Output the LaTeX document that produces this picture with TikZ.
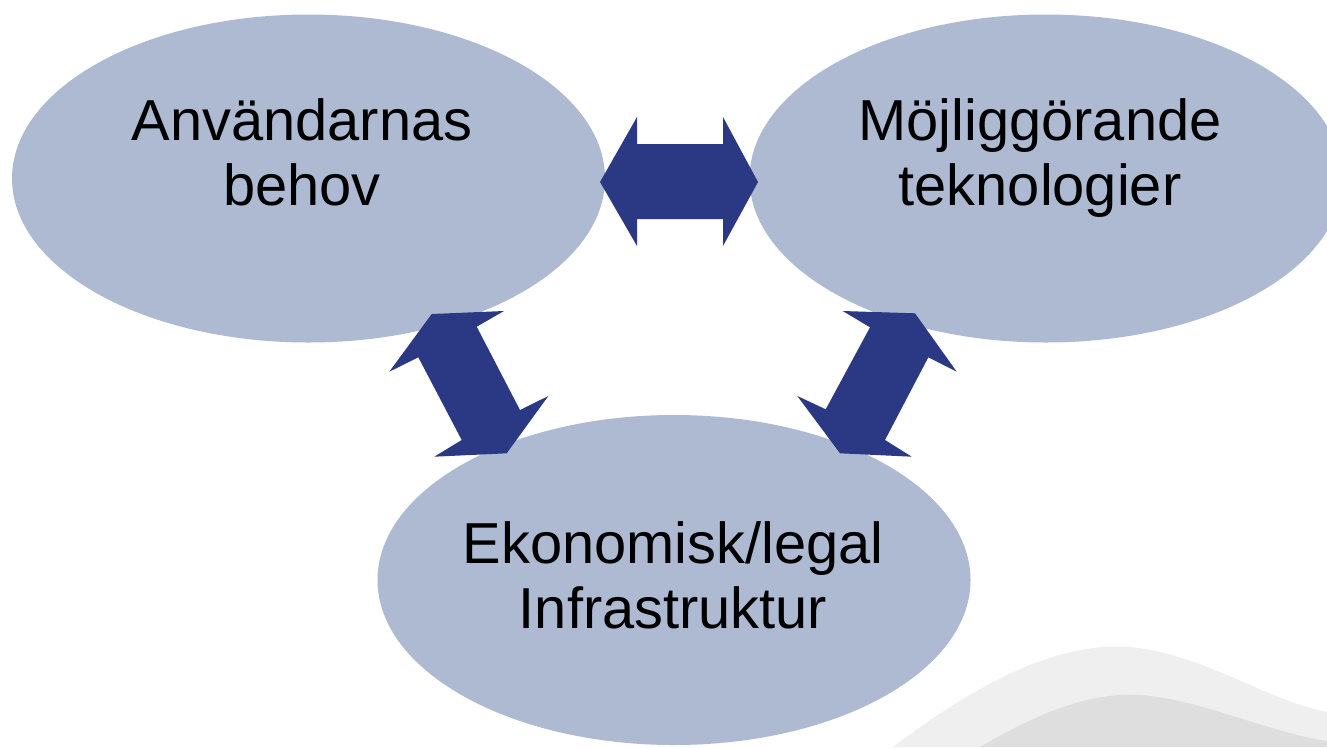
\documentclass[tikz,border=0pt]{standalone}
\usepackage{fontspec}
\setmainfont{Liberation Sans}
\usetikzlibrary{shapes.geometric}
\definecolor{ellfill}{RGB}{173,186,209}
\definecolor{arrowblue}{RGB}{43,57,132}
\definecolor{swooshA}{RGB}{239,239,239}
\definecolor{swooshB}{RGB}{222,222,222}
\tikzset{
  bubble/.style={ellipse, fill=ellfill, draw=none, inner sep=0pt,
    minimum width=593*0.02cm, minimum height=328*0.02cm},
  txt/.style={align=center, anchor=base, inner sep=0pt, text=black,
    font=\fontsize{32.9}{36.9}\selectfont},
  blockarrow/.style={fill=arrowblue, draw=none}
}
\begin{document}
\begin{tikzpicture}[x=0.02cm, y=-0.02cm]
\useasboundingbox (0,0) rectangle (1327,747);
\fill[white] (0,0) rectangle (1327,747);
\clip (0,0) rectangle (1327,747);
% background swoosh
\fill[swooshA] (893,747) .. controls (975,685) and (1055,642) .. (1128,647)
  .. controls (1200,652) and (1265,700) .. (1327,712) -- (1327,747) -- cycle;
\fill[swooshB] (980,747) .. controls (1040,712) and (1090,692) .. (1140,695)
  .. controls (1200,699) and (1270,733) .. (1327,741) -- (1327,747) -- cycle;
% ellipses
\node[bubble] (e1) at (308.5,178.5) {};
\node[bubble] (e2) at (1046,178.5) {};
\node[bubble, minimum height=330*0.02cm] (e3) at (674,580) {};
% block arrows
\fill[blockarrow] (600,182) -- (637,117) -- (637,144) -- (723,144) -- (723,117)
  -- (758,182) -- (723,246) -- (723,219) -- (637,219) -- (637,246) -- cycle;
\fill[blockarrow] (431.7,314) -- (504,311) -- (476.7,326.7) -- (520,410)
  -- (548.3,396) -- (506.7,453.3) -- (434.3,456.7) -- (461.7,440)
  -- (418.3,357.3) -- (389.3,371.7) -- cycle;
\fill[blockarrow] (842.7,311) -- (915,313.3) -- (956.7,371.7) -- (928.3,357.3)
  -- (885,440) -- (911.7,456.7) -- (840,453.3) -- (797.3,396)
  -- (825.7,409.3) -- (870,327.3) -- cycle;
% texts (base anchor = baseline of last line)
\node[txt] (t1) at (302,205) {Användarnas\\behov};
\node[txt] (t2) at (1040,205) {Möjliggörande\\teknologier};
\node[txt] (t3) at (673,628) {Ekonomisk/legal\\Infrastruktur};
\end{tikzpicture}
\end{document}
